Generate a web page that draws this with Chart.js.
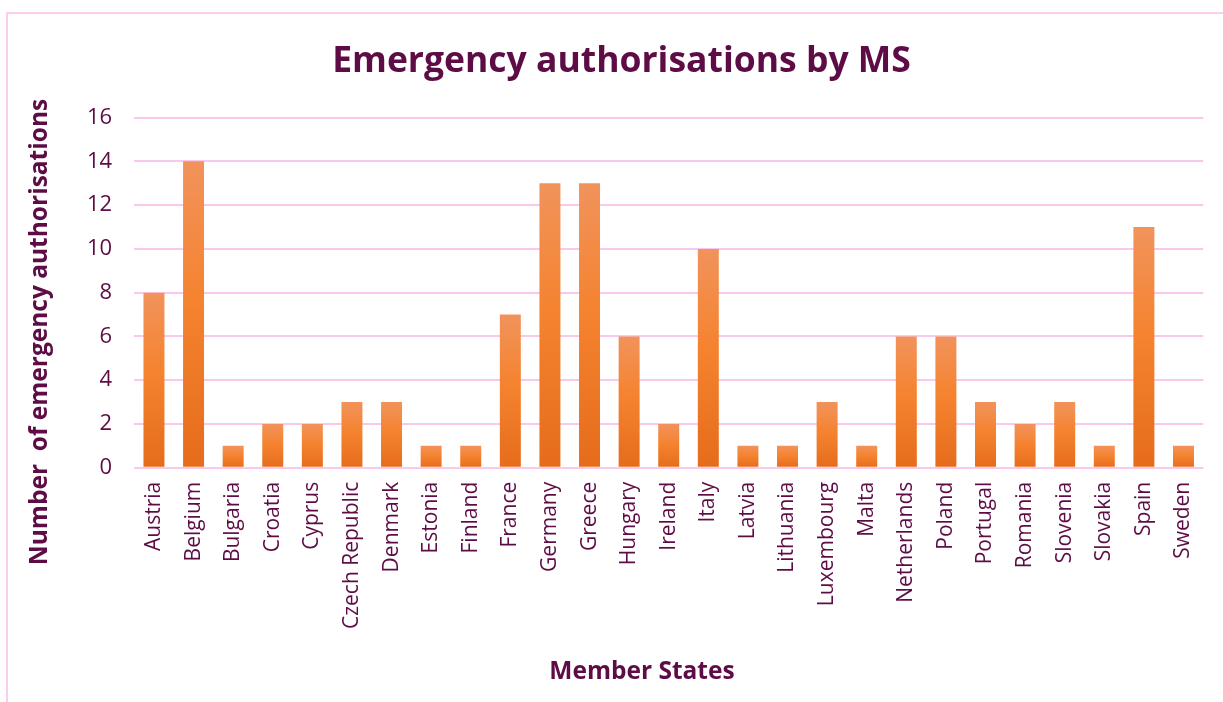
<!DOCTYPE html>
<html>
<head>
<meta charset="utf-8">
<script src="https://cdn.jsdelivr.net/npm/chart.js@4.4.0/dist/chart.umd.min.js"></script>
<style>
  html, body { margin: 0; padding: 0; background: #fff; }
  #wrap { position: relative; width: 1223px; height: 702px; }
  #frame {
    position: absolute; left: 6px; top: 12px; width: 1240px; height: 720px;
    border-top: 2px solid #FBCDEF; border-left: 2px solid #FBCDEF;
    pointer-events: none;
  }
</style>
</head>
<body>
<div id="wrap">
  <canvas id="myChart" width="1223" height="702"></canvas>
  <div id="frame"></div>
</div>
<script>
// Datos del gráfico
var paises = ['Austria', 'Belgium', 'Bulgaria', 'Croatia', 'Cyprus', 'Czech Republic', 'Denmark',
  'Estonia', 'Finland', 'France', 'Germany', 'Greece', 'Hungary', 'Ireland', 'Italy', 'Latvia',
  'Lithuania', 'Luxembourg', 'Malta', 'Netherlands', 'Poland', 'Portugal', 'Romania', 'Slovenia',
  'Slovakia', 'Spain', 'Sweden'];
var autorizaciones = [8, 14, 1, 2, 2, 3, 3, 1, 1, 7, 13, 13, 6, 2, 10, 1, 1, 3, 1, 6, 6, 3, 2, 3, 1, 11, 1];
var yMin = 0, yMax = 16, yPaso = 2;
var tituloX = 'Member States';
var tituloY = 'Number  of emergency authorisations';

var morado = '#5E0C45';
var rosa = '#FAC8EC';

// Degradado de cada barra, de arriba (claro) a abajo (oscuro)
function colorBarra(context) {
  var chart = context.chart;
  if (!chart.chartArea || context.type !== 'data') return '#F5832F';
  var y = chart.scales.y;
  var top = y.getPixelForValue(context.parsed.y);
  var base = y.getPixelForValue(0);
  if (!isFinite(top) || top === base) return '#F5832F';
  var g = chart.ctx.createLinearGradient(0, top, 0, base);
  g.addColorStop(0, '#F1935C');
  g.addColorStop(0.45, '#F5832F');
  g.addColorStop(1, '#E56C1B');
  return g;
}

// Títulos de los ejes, colocados como en el original (no centrados en el área)
var titulosEjes = {
  id: 'titulosEjes',
  afterDraw: function (chart) {
    var c = chart.ctx;
    c.save();
    c.fillStyle = morado;
    c.font = 'bold 24.5px "Open Sans"';
    c.textAlign = 'center';
    c.textBaseline = 'middle';
    c.fillText(tituloX, 642, 672);
    c.translate(40, 332);
    c.rotate(-Math.PI / 2);
    c.fillText(tituloY, 0, 0);
    c.restore();
  }
};

var ctx = document.getElementById('myChart').getContext('2d');
var myChart = new Chart(ctx, {
  type: 'bar',
  data: {
    labels: paises,
    datasets: [{
      data: autorizaciones,
      backgroundColor: colorBarra,
      borderWidth: 0,
      barPercentage: 0.53,
      categoryPercentage: 1
    }]
  },
  plugins: [titulosEjes],
  options: {
    responsive: false,
    animation: false,
    layout: { padding: { left: 37, right: 17, top: 8, bottom: 0 } },
    plugins: {
      legend: { display: false },
      tooltip: { enabled: false },
      title: {
        display: true,
        text: 'Emergency authorisations by MS',
        color: morado,
        font: { family: 'Open Sans', size: 35.5, weight: 'bold' },
        padding: { top: 33, bottom: 34 }
      }
    },
    scales: {
      x: {
        grid: { display: false, drawTicks: false },
        border: { display: false },
        ticks: {
          color: morado,
          font: { family: 'Open Sans', size: 21 },
          minRotation: 90,
          maxRotation: 90,
          autoSkip: false,
          padding: 14
        },
        // espacio para el título del eje X
        afterFit: function (scale) { scale.height += 59; }
      },
      y: {
        min: yMin,
        max: yMax,
        grid: { color: rosa, lineWidth: 2, drawTicks: false },
        border: { display: false },
        ticks: {
          stepSize: yPaso,
          color: morado,
          font: { family: 'Open Sans', size: 22 },
          padding: 22
        },
        // espacio para el título del eje Y
        afterFit: function (scale) { scale.width += 28; }
      }
    }
  }
});
</script>
</body>
</html>
